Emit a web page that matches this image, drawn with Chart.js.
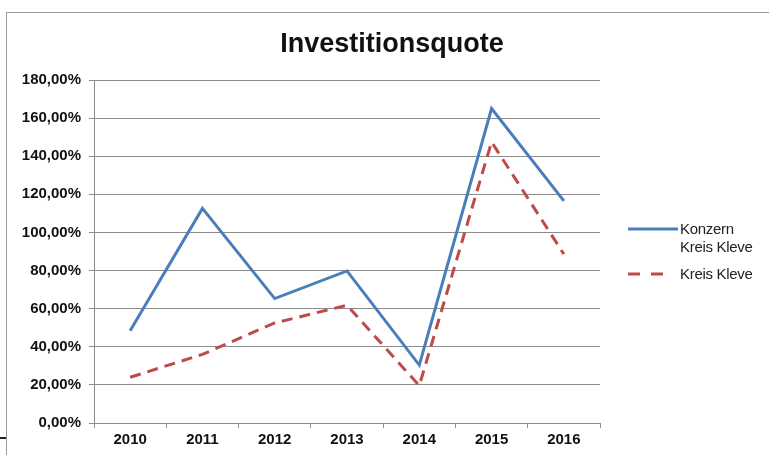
<!DOCTYPE html>
<html>
<head>
<meta charset="utf-8">
<script src="https://cdn.jsdelivr.net/npm/chart.js@4.4.1/dist/chart.umd.min.js"></script>
<style>
  html, body { margin: 0; padding: 0; background: #fff; }
  #wrap { position: relative; width: 769px; height: 455px; overflow: hidden; }
  #frame { position: absolute; left: 6px; top: 12px; width: 800px; height: 500px; border: 1.5px solid #9a9a9a; box-sizing: border-box; }
  #mark { position: absolute; left: 0; top: 437px; width: 6px; height: 2px; background: #222; }
  #chart { position: absolute; left: 0; top: 0; }
  #legend { position: absolute; left: 628px; top: 220px; font-family: Arial, "Liberation Sans", sans-serif; font-size: 15px; color: #222; }
  .item { display: flex; align-items: flex-start; margin-bottom: 9px; }
  .swatch { width: 52px; height: 18px; flex: none; }
  .txt { line-height: 18px; letter-spacing: -0.3px; }
</style>
</head>
<body>
<div id="wrap">
  <div id="frame"></div>
  <div id="mark"></div>
  <canvas id="chart" width="769" height="455"></canvas>
  <div id="legend"></div>
</div>
<script>
const years = ['2010', '2011', '2012', '2013', '2014', '2015', '2016'];
const konzern = [48.4, 112.6, 65.3, 79.8, 30.4, 165.0, 116.6];
const kreis = [24.0, 36.0, 52.5, 61.8, 19.6, 147.5, 88.6];
const seriesLabels = [['Konzern', 'Kreis Kleve'], ['Kreis Kleve']];
const seriesColors = ['#4a7ebb', '#be4b48'];
const yTicks = [0, 20, 40, 60, 80, 100, 120, 140, 160, 180];
const titleText = 'Investitionsquote';

const font = 'Arial, "Liberation Sans", sans-serif';

// title drawn at the spot it has in the picture (centred over the whole frame)
const titlePlugin = {
    id: 'frameTitle',
    afterDraw(chart) {
        const c = chart.ctx;
        c.save();
        c.font = 'bold 27px ' + font;
        c.fillStyle = '#111';
        c.textAlign = 'center';
        c.textBaseline = 'middle';
        c.fillText(titleText, 392, 45);
        c.restore();
    }
};

const ctx = document.getElementById('chart');
const chart = new Chart(ctx, {
    type: 'line',
    data: {
        labels: years,
        datasets: [{
            label: seriesLabels[0].join(' '),
            data: konzern,
            borderColor: seriesColors[0],
            borderWidth: 3,
            pointRadius: 0,
            tension: 0,
            fill: false
        }, {
            label: seriesLabels[1].join(' '),
            data: kreis,
            borderColor: seriesColors[1],
            borderWidth: 3,
            borderDash: [11, 7],
            pointRadius: 0,
            tension: 0,
            fill: false
        }]
    },
    plugins: [titlePlugin],
    options: {
        responsive: false,
        animation: false,
        layout: { padding: { left: 0, right: 169, top: 80, bottom: 0 } },
        scales: {
            x: {
                offset: true,
                grid: { display: true, offset: true, drawOnChartArea: false, drawTicks: true, tickLength: 5, color: '#8c8c8c' },
                border: { display: true, color: '#8c8c8c', width: 1 },
                ticks: { color: '#111', padding: 3, font: { family: font, size: 15, weight: 'bold' } },
                afterFit: (s) => { s.height = 32; }
            },
            y: {
                min: 0,
                max: 180,
                afterBuildTicks: (s) => { s.ticks = yTicks.map(v => ({ value: v })); },
                grid: { color: '#8c8c8c', lineWidth: 1, drawTicks: true, tickLength: 5 },
                border: { display: true, color: '#8c8c8c' },
                ticks: {
                    color: '#111',
                    padding: 8,
                    font: { family: font, size: 15, weight: 'bold' },
                    callback: (v) => v.toFixed(2).replace('.', ',') + '%'
                },
                afterFit: (s) => { s.width = 94; }
            }
        },
        plugins: {
            legend: { display: false },
            tooltip: { enabled: false },
            title: { display: false }
        }
    }
});

// legend drawn as html, from the dataset labels and colours
const legend = document.getElementById('legend');
seriesLabels.forEach((lines, i) => {
    const item = document.createElement('div');
    item.className = 'item';
    const sw = document.createElement('canvas');
    sw.className = 'swatch';
    sw.width = 52; sw.height = 18;
    const c = sw.getContext('2d');
    c.strokeStyle = seriesColors[i];
    c.lineWidth = 3;
    if (i === 1) c.setLineDash([12, 11]);
    c.beginPath(); c.moveTo(0, 9); c.lineTo(i === 1 ? 40 : 50, 9); c.stroke();
    const t = document.createElement('div');
    t.className = 'txt';
    t.innerHTML = lines.join('<br>');
    item.appendChild(sw);
    item.appendChild(t);
    legend.appendChild(item);
});
</script>
</body>
</html>
